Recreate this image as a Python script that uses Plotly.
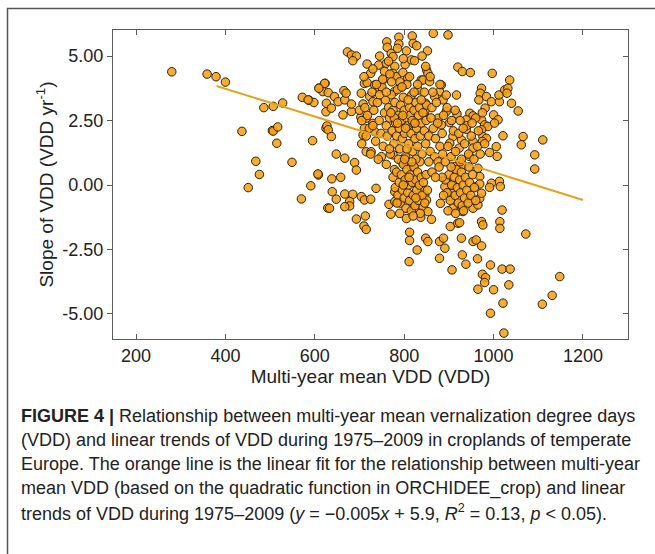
import plotly.graph_objects as go

# ---------------- data ----------------
sparse_x = [280, 359, 379, 400, 486, 507, 528, 572, 437, 505, 507, 517, 515, 468, 476, 549, 451, 570, 591, 629,
            595, 608, 587, 598, 610, 623, 618, 626, 625, 625]
sparse_y = [4.39, 4.30, 4.20, 3.99, 3.00, 3.05, 3.18, 3.40, 2.08, 2.11, 2.09, 2.25, 1.62, 0.92, 0.41, 0.88, -0.10, -0.54, -0.03, -0.89,
            1.72, 0.39, 3.29, 3.20, 3.76, 3.94, 3.62, 3.17, 2.84, 2.20]

upper_x = [818, 820, 788, 788, 761, 762, 771, 775, 673, 682, 693, 685, 717, 743, 760, 779, 802, 816, 823, 725,
           756, 775, 782, 797, 808, 838, 622, 609, 630, 665, 711, 717, 734, 752, 745, 778, 793, 831, 585, 644,
           652, 667, 670, 704, 723, 730, 708, 637, 663, 682, 682, 627, 630, 637, 703, 715, 711, 708, 730, 734,
           648, 667, 689, 693, 715, 726, 749, 775, 607, 638, 658]
upper_y = [5.78, 5.49, 5.73, 5.47, 5.55, 5.34, 5.10, 4.98, 5.16, 5.04, 5.00, 4.82, 4.69, 4.65, 4.72, 4.60, 4.67, 4.85, 4.82, 4.33,
           4.40, 4.33, 4.20, 4.36, 4.14, 4.07, 3.94, 3.75, 3.58, 3.66, 3.94, 3.97, 3.88, 4.07, 3.75, 3.62, 3.81, 3.68, 3.30, 3.43,
           3.23, 3.30, 3.56, 3.56, 3.43, 3.23, 3.14, 2.98, 2.72, 2.85, 3.14, 2.29, 2.14, 1.88, 2.63, 2.59, 2.20, 1.94, 2.39, 2.07,
           1.20, 1.04, 0.87, 0.58, 1.29, 1.29, 1.10, 1.17, 0.43, 0.24, 0.30]

right_x = [865, 898, 920, 930, 948, 997, 1036, 850, 853, 842, 857, 883, 879, 868, 887, 894, 917, 973, 970, 967,
           984, 995, 1013, 1012, 1025, 1032, 1030, 1040, 1055, 981, 1000, 1010, 848, 846, 894, 918, 947, 954, 973, 980,
           987, 1002, 939, 939, 876, 883, 902, 973, 976, 984, 975, 1021, 1066, 1062, 1110, 954, 954, 1006, 991, 1008,
           1092, 1092, 928, 923, 909, 902, 946, 931, 913, 965, 969, 995, 1013]
right_y = [5.88, 5.82, 4.57, 4.40, 4.36, 4.33, 4.07, 4.46, 4.33, 4.07, 4.01, 3.88, 3.62, 3.43, 3.30, 3.49, 3.49, 3.75, 3.56, 3.30,
           3.43, 3.23, 3.23, 3.49, 3.69, 3.75, 3.56, 3.17, 2.87, 2.98, 2.72, 2.53, 3.17, 2.85, 2.85, 2.76, 2.78, 2.68, 2.53, 2.33,
           2.27, 2.40, 2.53, 2.16, 2.59, 2.33, 2.42, 2.14, 1.88, 1.81, 1.69, 1.91, 1.88, 1.56, 1.75, 1.69, 1.43, 1.49, 1.26, 1.11,
           1.17, 0.62, 1.75, 1.43, 1.88, 1.62, 1.11, 0.78, 0.72, 0.65, 0.33, 0.07, 0.14]

low_x = [639, 648, 633, 667, 685, 678, 678, 667, 704, 711, 725, 737, 693, 713, 710, 715, 766, 779, 786, 770,
         779, 812, 812, 829, 811, 819, 823, 837,
         891, 909, 958, 969, 991, 1015, 838, 846, 850, 842, 853, 861, 881, 902, 909, 924, 931, 946, 954, 965, 969, 973,
         1019, 1014, 1014, 1072, 903, 920, 924, 973, 976, 848, 853, 879, 888, 891, 928, 954, 961, 973, 879, 907,
         930, 938, 964, 993, 1019, 1037, 975, 982, 980, 965, 1000, 1034, 1021, 993, 1023, 1109, 1131, 1148]
low_y = [-0.26, -0.55, -0.90, -0.35, -0.36, -0.64, -0.81, -0.84, -0.45, -0.58, -0.55, -0.13, -1.32, -1.20, -1.59, -1.72, -0.75, -0.64, -0.67, -1.13,
         -0.26, -1.83, -2.15, -2.52, -2.97, -0.71, -0.90, -1.25,
         -0.06, 0.04, -0.06, 0.04, -0.09, -0.06, -0.13, -0.39, -0.58, -0.84, -1.03, -1.33, -0.71, -0.45, -0.32, -0.77, -1.03, -0.52, -0.90, -0.77, -0.52, -0.32,
         -0.97, -1.42, -1.68, -1.90, -1.61, -1.48, -1.46, -1.42, -1.55, -2.06, -2.19, -2.19, -2.06, -2.45, -2.06, -2.19, -2.13, -2.36, -2.84, -3.29,
         -2.71, -3.07, -2.86, -3.10, -3.26, -3.26, -3.46, -3.59, -3.78, -4.04, -4.06, -3.87, -4.58, -4.97, -5.74, -4.62, -4.28, -3.55]

dense_x = [700, 705, 712, 718, 722, 728, 732, 736, 740, 744, 748, 750, 753, 756, 758, 760, 762, 765, 767, 769,
           771, 773, 775, 777, 779, 781, 783, 785, 787, 789, 790, 792, 794, 796, 798, 800, 801, 803, 805, 806,
           808, 810, 812, 813, 815, 817, 819, 820, 822, 824, 826, 828, 830, 832, 834, 836, 838, 840, 842, 845,
           848, 850, 752, 768, 790, 812, 795, 830, 845, 725, 742, 760, 778, 795, 815, 835, 705, 715, 730, 745,
           778, 803, 818, 826, 767, 787, 806, 822, 772, 760, 738, 770, 785, 797, 809, 824, 838, 849, 855, 860,
           858, 865, 870, 862, 875, 868, 880, 876, 885,
           775, 780, 783, 786, 789, 792, 794, 796, 798, 800, 802, 804, 806, 808, 810, 812, 814, 816, 818, 820,
           822, 824, 826, 828, 830, 832, 834, 836, 838, 840, 843, 846, 849, 852, 790, 805, 820, 798, 811, 826,
           784, 817, 801,
           892, 896, 900, 903, 906, 909, 912, 914, 917, 919, 921, 924, 926, 928, 930, 932, 935, 937, 940, 943,
           946, 949, 953, 957, 960, 898, 915, 933, 905, 925, 945, 888, 885,
           855, 862, 870, 878, 886, 892, 898, 905, 910, 915, 922, 928, 935, 940, 944, 950, 956, 960, 964, 970,
           975, 980, 888, 896, 906, 914, 925, 932, 952, 966, 872, 864, 880, 858, 848, 852, 840, 828, 805, 798,
           785, 765, 745, 730, 710]
dense_y = [2.9, 2.5, 3.0, 2.7, 2.2, 3.6, 2.9, 1.7, 3.2, 2.5, 2.0, 3.8, 1.5, 2.8, 3.3, 2.3, 1.9, 3.0, 2.6, 1.2,
           3.5, 2.1, 2.9, 1.6, 3.2, 2.4, 1.9, 3.7, 2.7, 2.2, 1.4, 3.1, 2.5, 1.8, 3.4, 2.9, 2.0, 1.1, 2.6, 3.9,
           2.3, 1.6, 3.0, 2.7, 2.0, 3.5, 1.3, 2.4, 2.9, 1.8, 3.2, 2.2, 1.5, 2.7, 3.0, 1.9, 2.4, 1.2, 2.8, 2.1,
           1.6, 3.1, 4.1, 4.3, 4.0, 4.2, 3.8, 3.9, 3.6, 1.2, 1.0, 0.8, 0.6, 0.9, 0.7, 0.9, 1.6, 1.9, 2.3, 3.5,
           2.6, 2.2, 2.5, 1.0, 1.4, 1.0, 1.4, 3.6, 4.0, 3.6, 3.9, 2.8, 2.4, 2.7, 3.3, 2.4, 3.3, 2.5, 1.9, 2.6,
           1.3, 2.2, 1.8, 3.0, 2.4, 1.1, 1.5, 0.9, 2.0,
           0.3, -0.1, 0.5, -0.4, 0.1, -0.7, 0.4, -0.2, 0.8, -0.5, 0.2, -0.9, 0.6, -0.3, 0.0, -0.6, 0.4, -1.0, 0.1, -0.4,
           0.7, -0.8, 0.2, -0.2, 0.5, -0.6, 0.0, -1.1, 0.3, -0.4, 0.1, -0.7, 0.4, -0.2, -1.1, -1.3, -1.2, 0.0, 0.3, -0.5,
           -0.7, 0.9, 1.0,
           0.2, -0.3, 0.4, -0.6, 0.0, -0.9, 0.3, -0.4, 0.6, -0.1, -0.7, 0.2, -0.3, 0.5, -0.8, 0.0, -0.5, 0.3, -0.2, -0.7,
           0.1, -0.4, 0.4, -0.1, -0.6, -1.0, -1.1, -1.0, 0.7, 0.9, 0.7, -0.4, 0.3,
           0.9, 0.5, 0.3, 0.7, 1.2, 0.9, 1.5, 1.1, 2.1, 1.3, 2.0, 1.0, 1.6, 2.3, 1.2, 1.9, 1.0, 2.6, 1.5, 1.2,
           2.8, 1.6, 2.7, 3.0, 2.5, 2.9, 2.5, 2.2, 2.4, 2.1, 3.2, 3.6, 3.9, 4.2, 4.6, 5.2, 5.0, 5.4, 5.2, 4.9,
           5.3, 4.8, 5.0, 4.5, 4.2]

fit_x = [380, 1200]
fit_y = [3.84, -0.58]

x_tickvals = [200, 400, 600, 800, 1000, 1200]
x_ticktext = ["200", "400", "600", "800", "1000", "1200"]
y_tickvals = [5, 2.5, 0, -2.5, -5]
y_ticktext = ["5.00", "2.50", "0.00", "-2.50", "-5.00"]

caption_lines = [
    "<b>FIGURE 4 |</b> Relationship between multi-year mean vernalization degree days",
    "(VDD) and linear trends of VDD during 1975–2009 in croplands of temperate",
    "Europe. The orange line is the linear fit for the relationship between multi-year",
    "mean VDD (based on the quadratic function in ORCHIDEE_crop) and linear",
    "trends of VDD during 1975–2009 (<i>y</i> = −0.005<i>x</i> + 5.9, <i>R</i><sup>2</sup> = 0.13, <i>p</i> &lt; 0.05).",
]

all_x = sparse_x + upper_x + right_x + low_x + dense_x
all_y = sparse_y + upper_y + right_y + low_y + dense_y

W, H = 655, 554
FONT = "Liberation Sans, Arial, sans-serif"
AX = "#5a5a5a"

fig = go.Figure()
fig.add_trace(go.Scatter(
    x=all_x, y=all_y, mode="markers",
    marker=dict(size=8.5, color="rgba(246,160,22,0.88)", line=dict(color="#2e1f08", width=1)),
    showlegend=False, hoverinfo="skip"))
fig.add_trace(go.Scatter(
    x=fit_x, y=fit_y, mode="lines",
    line=dict(color="#e3a31c", width=2), showlegend=False, hoverinfo="skip"))
# invisible trace on a right-hand axis to draw inward ticks on the right border
fig.add_trace(go.Scatter(x=fit_x, y=fit_y, mode="lines", yaxis="y2",
                         line=dict(width=0), opacity=0, showlegend=False, hoverinfo="skip"))

xdom = [113 / W, 628 / W]
ydom = [(H - 339) / H, (H - 30) / H]
yrange = [-5.97, 6.01]

fig.update_layout(
    width=W, height=H, margin=dict(l=0, r=0, t=0, b=0),
    paper_bgcolor="white", plot_bgcolor="white",
    font=dict(family=FONT, color="#222222"),
    xaxis=dict(domain=xdom, range=[148.5, 1300.7], tickvals=x_tickvals, ticktext=x_ticktext,
               ticks="inside", ticklen=5, tickcolor=AX, tickwidth=1, mirror="ticks",
               showline=True, linecolor=AX, linewidth=1.3, showgrid=False, zeroline=False,
               tickfont=dict(size=18, color="#222"),
               title=dict(text="Multi-year mean VDD (VDD)", font=dict(size=19, color="#222"), standoff=0)),
    yaxis=dict(domain=ydom, range=yrange, tickvals=y_tickvals, ticktext=y_ticktext,
               ticks="outside", ticklen=5, tickcolor=AX, tickwidth=1, mirror=True,
               showline=True, linecolor=AX, linewidth=1.3, showgrid=False, zeroline=False,
               tickfont=dict(size=18, color="#222"),
               title=dict(text="Slope of VDD (VDD yr<sup>-1</sup>)", font=dict(size=19, color="#222"), standoff=3)),
    yaxis2=dict(domain=ydom, range=yrange, overlaying="y", side="right", anchor="x",
                tickvals=y_tickvals, ticks="inside", ticklen=5, tickcolor=AX, tickwidth=1,
                showticklabels=False, showline=False, showgrid=False, zeroline=False),
)

# outer frame of the figure panel
fig.add_shape(type="rect", xref="paper", yref="paper",
              x0=7.5 / W, x1=1.02, y0=-0.02, y1=(H - 8.5) / H,
              line=dict(color="#555555", width=1.5), fillcolor="rgba(0,0,0,0)")

y0 = 416
for i, line in enumerate(caption_lines):
    fig.add_annotation(text=line, xref="paper", yref="paper", x=19 / W, y=(H - (y0 + 24 * i)) / H,
                       xanchor="left", yanchor="middle", showarrow=False, align="left",
                       font=dict(size=18, family=FONT, color="#222222"))

fig.write_html("out.html")
